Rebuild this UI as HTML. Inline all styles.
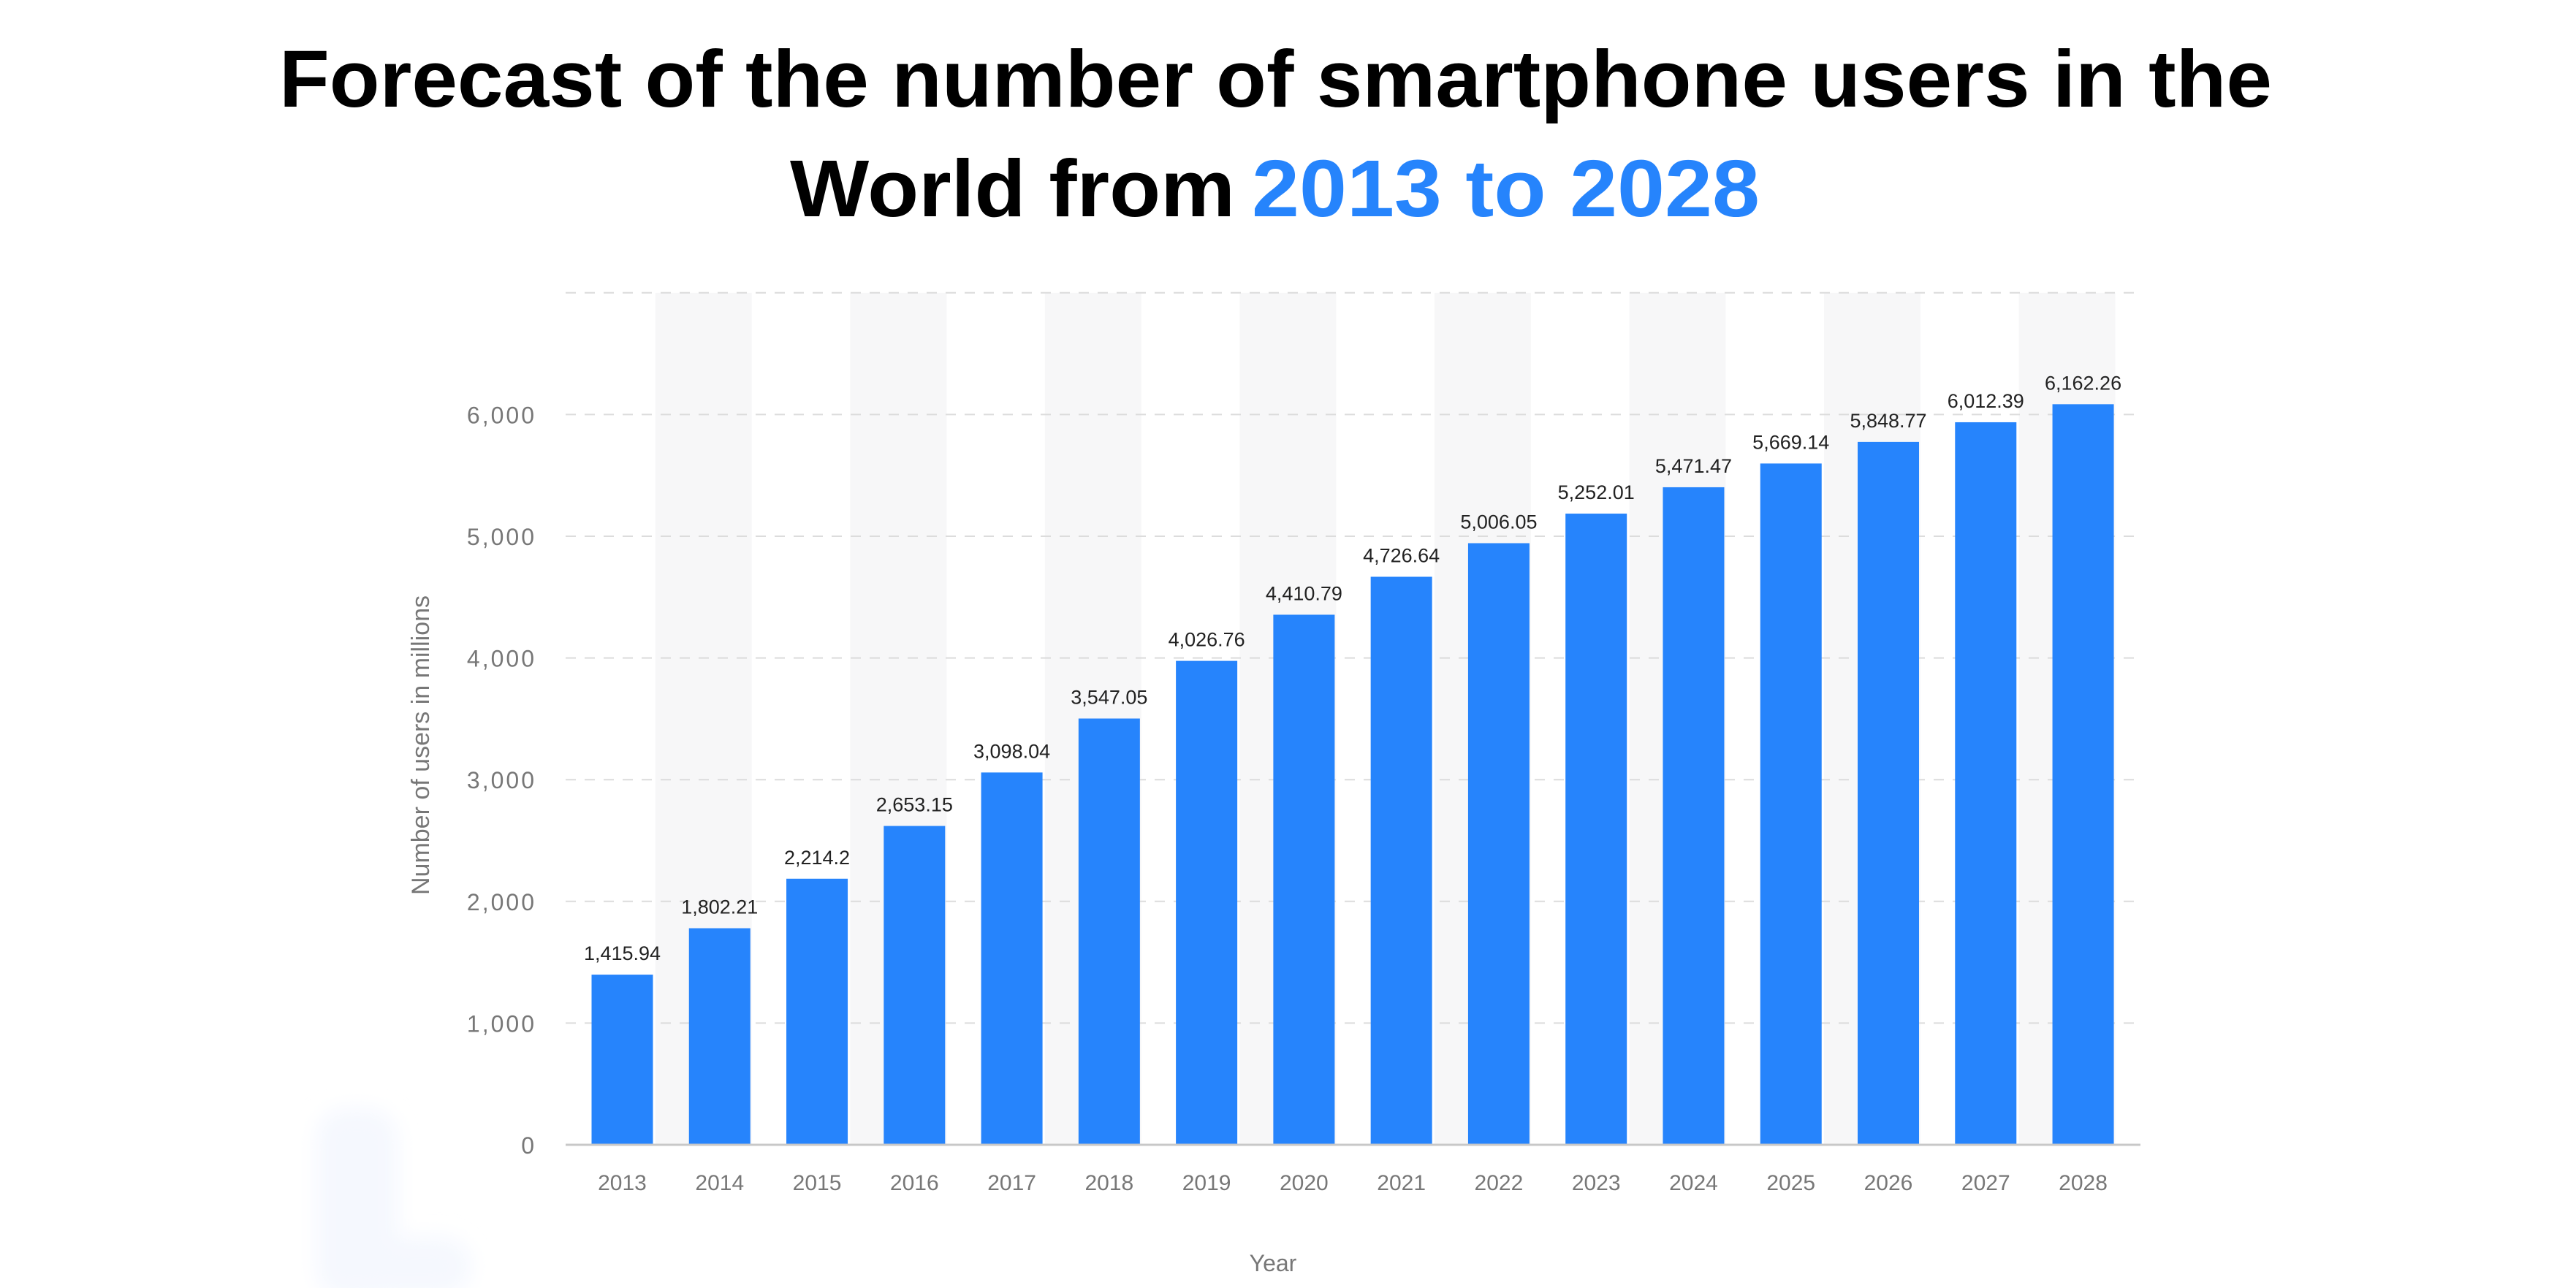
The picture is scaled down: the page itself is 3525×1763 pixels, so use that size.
<!DOCTYPE html>
<html><head><meta charset="utf-8"><style>
html,body{margin:0;padding:0;background:#fff;}
svg{display:block;}
</style></head><body>
<svg id="chart" width="3525" height="1763" viewBox="0 0 3525 1763" xmlns="http://www.w3.org/2000/svg" font-family="Liberation Sans, sans-serif">
<defs><filter id="blur"><feGaussianBlur stdDeviation="14"/></filter></defs>
<rect x="0" y="0" width="3525" height="1763" fill="#fff"/>
<g filter="url(#blur)">
<rect x="433" y="1517" width="111" height="260" rx="40" fill="#f5f8fe"/>
<rect x="433" y="1693" width="212" height="80" rx="40" fill="#f5f8fe"/>
</g>
<text x="382" y="146" font-size="110" font-weight="bold" fill="#000" textLength="2727" lengthAdjust="spacingAndGlyphs">Forecast of the number of smartphone users in the</text>
<text x="1081" y="296" font-size="110" font-weight="bold" fill="#000"><tspan textLength="609" lengthAdjust="spacingAndGlyphs">World from</tspan><tspan x="1713" fill="#2684fc" textLength="695" lengthAdjust="spacingAndGlyphs">2013 to 2028</tspan></text>
<g id="shades"></g><g id="grid"></g><g id="bars"></g><g id="labels"></g>
<line x1="774" x2="2929" y1="1567" y2="1567" stroke="#c8c8c8" stroke-width="3"/>
<text transform="translate(587,1020) rotate(-90)" text-anchor="middle" font-size="34" fill="#777">Number of users in millions</text>
<text x="1742" y="1740" text-anchor="middle" font-size="32" fill="#777">Year</text>
</svg>
<script>
const categories = ["2013","2014","2015","2016","2017","2018","2019","2020","2021","2022","2023","2024","2025","2026","2027","2028"];
const values = [1415.94,1802.21,2214.2,2653.15,3098.04,3547.05,4026.76,4410.79,4726.64,5006.05,5252.01,5471.47,5669.14,5848.77,6012.39,6162.26];
const valueLabels = ["1,415.94","1,802.21","2,214.2","2,653.15","3,098.04","3,547.05","4,026.76","4,410.79","4,726.64","5,006.05","5,252.01","5,471.47","5,669.14","5,848.77","6,012.39","6,162.26"];
const yTicks = [0,1000,2000,3000,4000,5000,6000,7000];
const yTickLabels = ["0","1,000","2,000","3,000","4,000","5,000","6,000",""];
const NS="http://www.w3.org/2000/svg";
const y0=1567, yPer=164.5/1000;
function yScale(v){return y0 - v*yPer;}
function gridY(v){return y0 - v*0.1666;}
const firstCenter=851.5, step=133.27, barW=84;
function xScale(i){return firstCenter + i*step;}
function mk(tag, attrs, parent){const e=document.createElementNS(NS,tag);for(const k in attrs)e.setAttribute(k,attrs[k]);document.getElementById(parent).appendChild(e);return e;}
categories.forEach((c,i)=>{
  if(i%2===1){
    const s=mk('rect',{x:xScale(i)-barW/2-46,y:gridY(7000),width:barW+48,height:y0-gridY(7000),fill:'#f7f7f8'},'shades');
    
    
  }
});
yTicks.forEach((t,i)=>{
  if(t>0){
    const l=mk('line',{x1:774,x2:2929,y1:gridY(t),y2:gridY(t),stroke:'#dcdcdc','stroke-width':2,'stroke-dasharray':'14 12'},'grid');
    
    
  }
  if(yTickLabels[i]){
    const tx=mk('text',{x:734,y:gridY(t)+12,'text-anchor':'end','font-size':32,'letter-spacing':3,fill:'#777'},'labels');
    tx.textContent=yTickLabels[i];
    
    
  }
});
categories.forEach((c,i)=>{
  const v=values[i];
  const r=mk('rect',{x:xScale(i)-barW/2,y:yScale(v),width:barW,height:y0-yScale(v),fill:'#2684fc'},'bars');
  
  
  const lb=mk('text',{x:xScale(i),y:yScale(v)-20,'text-anchor':'middle','font-size':27,fill:'#222'},'labels');
  lb.textContent=valueLabels[i];
  
  
  const xl=mk('text',{x:xScale(i),y:1629,'text-anchor':'middle','font-size':30,fill:'#777'},'labels');
  xl.textContent=c;
  
  
});
</script>
</body></html>
